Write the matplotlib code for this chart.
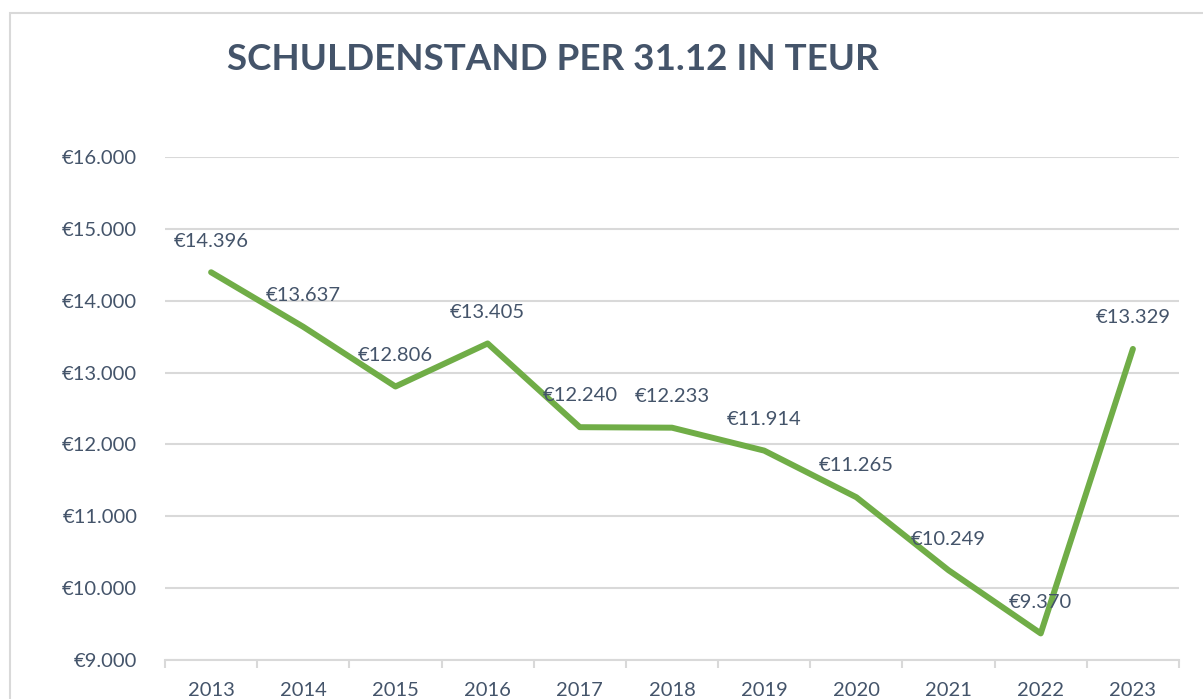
import matplotlib.pyplot as plt
from matplotlib.patches import Rectangle
from matplotlib.ticker import FuncFormatter

years = ['2013', '2014', '2015', '2016', '2017', '2018', '2019', '2020', '2021', '2022', '2023']
debt = [14396, 13637, 12806, 13405, 12240, 12233, 11914, 11265, 10249, 9370, 13329]

text_col = '#44546A'
grid_col = '#D9D9D9'
line_col = '#70AD47'

plt.rcParams['font.family'] = ['Lato', 'DejaVu Sans']

def euro(v):
    return '€' + f'{int(round(v)):,}'.replace(',', '.')

fig = plt.figure(figsize=(12.03, 6.99), dpi=100)
W, H = 1203, 699

# chart area border (partly cut off at right/bottom)
fig.patches.append(Rectangle((10 / W, -0.2), 1.2, 1.2 - 13 / H, transform=fig.transFigure,
                             fill=False, edgecolor=grid_col, linewidth=1.5))

ax = fig.add_axes([165 / W, 39 / H, 1014 / W, 503 / H])
x = list(range(len(years)))
ax.plot(x, debt, color=line_col, linewidth=4.3, solid_capstyle='round', solid_joinstyle='round', zorder=3)

for xi, v in zip(x, debt):
    ax.annotate(euro(v), (xi, v), xytext=(0, 22.5), textcoords='offset points',
                ha='center', va='center', fontsize=14.5, color=text_col, zorder=4)

ax.set_xlim(-0.5, len(years) - 0.5)
ax.set_ylim(9000, 16000)
ax.set_yticks(range(9000, 16001, 1000))
ax.yaxis.set_major_formatter(FuncFormatter(lambda v, p: euro(v)))
ax.set_xticks(x)
ax.set_xticklabels(years)
ax.set_xticks([i - 0.5 for i in range(len(years) + 1)], minor=True)
ax.tick_params(axis='x', which='major', length=0, pad=16, labelsize=14.5, labelcolor=text_col)
ax.tick_params(axis='x', which='minor', length=6, width=1.5, color=grid_col)
ax.tick_params(axis='y', length=0, pad=20, labelsize=14.5, labelcolor=text_col)

ax.grid(axis='y', color=grid_col, linewidth=1.5)
ax.set_axisbelow(True)
for s in ['top', 'right', 'left']:
    ax.spines[s].set_visible(False)
ax.spines['bottom'].set_color(grid_col)
ax.spines['bottom'].set_linewidth(1.5)

fig.text(553 / W, 1 - 60 / H, 'SCHULDENSTAND PER 31.12 IN TEUR', ha='center', va='center',
         fontsize=26.5, fontweight='bold', color=text_col)

fig.savefig('out.png', dpi=100)
